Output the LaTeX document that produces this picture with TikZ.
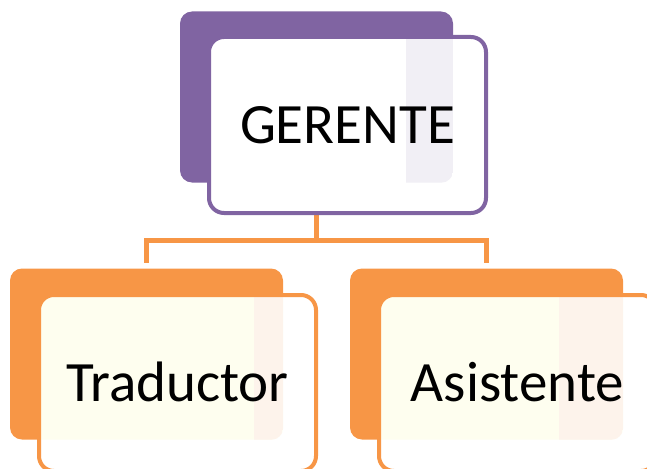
\documentclass[tikz,border=0pt]{standalone}
\usepackage{fontspec}
\setmainfont{Carlito}
\definecolor{gpurple}{HTML}{8064A2}
\definecolor{gorange}{HTML}{F79646}
\definecolor{glav}{HTML}{F1EFF5}
\definecolor{gyellow}{HTML}{FEFEEF}
\definecolor{gpink}{HTML}{FDF3EB}
\begin{document}
\begin{tikzpicture}[x=1pt,y=-1pt,
  backbox/.style={rectangle, rounded corners=12pt, minimum width=273pt, minimum height=171pt, inner sep=0pt},
  frontbox/.style={rectangle, rounded corners=15pt, minimum width=277pt, minimum height=176pt, line width=4pt, fill=white, inner sep=0pt, text height=37pt, text depth=0pt, font=\fontsize{57}{60}\selectfont},
  strip/.style={sharp corners},
  link/.style={draw=gorange, line width=5pt}]
\clip (0,0) rectangle (647,468);
% back boxes
\node[backbox, fill=gpurple] (gback) at (316.5,97) {};
\node[backbox, fill=gorange] (tback) at (146.5,354) {};
\node[backbox, fill=gorange] (aback) at (486.5,354) {};
% connectors
\coordinate (bus) at (316.5,240);
\draw[link] (gback.south) -- (bus) -| ([yshift=5pt]tback.north);
\draw[link] (bus) -| ([yshift=5pt]aback.north);
% front boxes
\node[frontbox, draw=gpurple, path picture={
    \begin{scope}
      \clip[rounded corners=12pt] (gback.south west) rectangle (gback.north east);
      \fill[glav, strip] ([xshift=-47pt]gback.north east) rectangle (gback.south east);
    \end{scope}}] (g) at (347.5,125) {GERENTE};
\node[frontbox, draw=gorange, path picture={
    \fill[gyellow, rounded corners=12pt] (tback.south west) rectangle (tback.north east);
    \begin{scope}
      \clip[rounded corners=12pt] (tback.south west) rectangle (tback.north east);
      \fill[gpink, strip] ([xshift=-29pt]tback.north east) rectangle (tback.south east);
    \end{scope}}] (t) at (177.5,383) {Traductor};
\node[frontbox, draw=gorange, path picture={
    \fill[gyellow, rounded corners=12pt] (aback.south west) rectangle (aback.north east);
    \begin{scope}
      \clip[rounded corners=12pt] (aback.south west) rectangle (aback.north east);
      \fill[gpink, strip] ([xshift=-64pt]aback.north east) rectangle (aback.south east);
    \end{scope}}] (a) at (517.5,383) {Asistente};
\end{tikzpicture}
\end{document}
